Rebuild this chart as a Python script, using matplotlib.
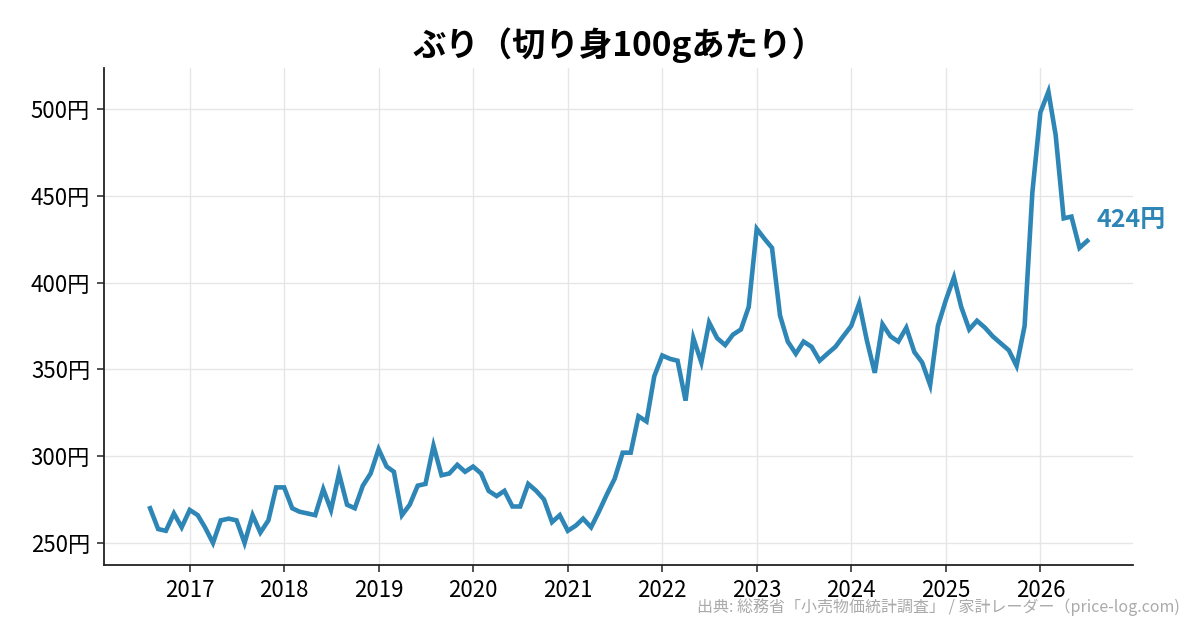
import pandas as pd
import matplotlib
matplotlib.use("Agg")
import matplotlib.pyplot as plt
import matplotlib.dates as mdates

plt.rcParams["font.family"] = ["Noto Sans CJK JP", "DejaVu Sans"]

# monthly price of buri (yen per 100g), 2016-08 .. 2026-07
months = pd.date_range("2016-08-01", "2026-07-01", freq="MS")
prices = [
    270, 258, 257, 267, 259,
    269, 266, 259, 250, 263, 264, 263, 250, 266, 256, 263, 282,
    282, 270, 268, 267, 266, 281, 269, 290, 272, 270, 283, 290,
    304, 294, 291, 266, 272, 283, 284, 306, 289, 290, 295, 291,
    294, 290, 280, 277, 280, 271, 271, 284, 280, 275, 262, 266,
    257, 260, 264, 259, 268, 278, 287, 302, 302, 323, 320, 346,
    358, 356, 355, 332, 368, 354, 377, 368, 364, 370, 373, 386,
    431, 425, 420, 381, 366, 359, 366, 363, 355, 359, 363, 369,
    375, 388, 367, 348, 376, 369, 366, 374, 360, 354, 341, 375,
    390, 403, 386, 373, 378, 374, 369, 365, 361, 352, 375, 452,
    498, 510, 485, 437, 438, 420, 424,
]
years = list(range(2017, 2027))
yticks = [250, 300, 350, 400, 450, 500]

color = "#2E86B6"

fig = plt.figure(figsize=(12, 6.3), dpi=100)
ax = fig.add_axes([0.0867, 0.1032, 0.8575, 0.7888])

ax.plot(months, prices, color=color, linewidth=3.3, solid_joinstyle="miter")

last_x, last_y = months[-1], prices[-1]
ax.annotate(f"{last_y}円", xy=(last_x, last_y), xytext=(7, 15),
            textcoords="offset points", color=color, fontsize=18,
            fontweight="bold", va="center", ha="left")

ax.set_xlim(pd.Timestamp("2016-02-05"), pd.Timestamp("2026-12-25"))
ax.set_ylim(237.3, 523.6)
ax.set_xticks([pd.Timestamp(f"{y}-01-01") for y in years])
ax.xaxis.set_major_formatter(mdates.DateFormatter("%Y"))
ax.set_yticks(yticks)
ax.set_yticklabels([f"{v}円" for v in yticks])
ax.tick_params(labelsize=16, length=5, width=1.2, color="#333333", pad=5)

ax.grid(True, color="#e6e6e6", linewidth=1)
ax.set_axisbelow(True)
for side in ["top", "right"]:
    ax.spines[side].set_visible(False)
for side in ["left", "bottom"]:
    ax.spines[side].set_color("#222222")
    ax.spines[side].set_linewidth(1.3)

ax.set_title("ぶり（切り身100gあたり）", fontsize=24, fontweight="bold", pad=9)

fig.text(0.983, 0.036, "出典: 総務省「小売物価統計調査」 / 家計レーダー（price-log.com)",
         ha="right", va="center", fontsize=11.5, color="#aaaaaa")

fig.savefig("out.png", dpi=100)
